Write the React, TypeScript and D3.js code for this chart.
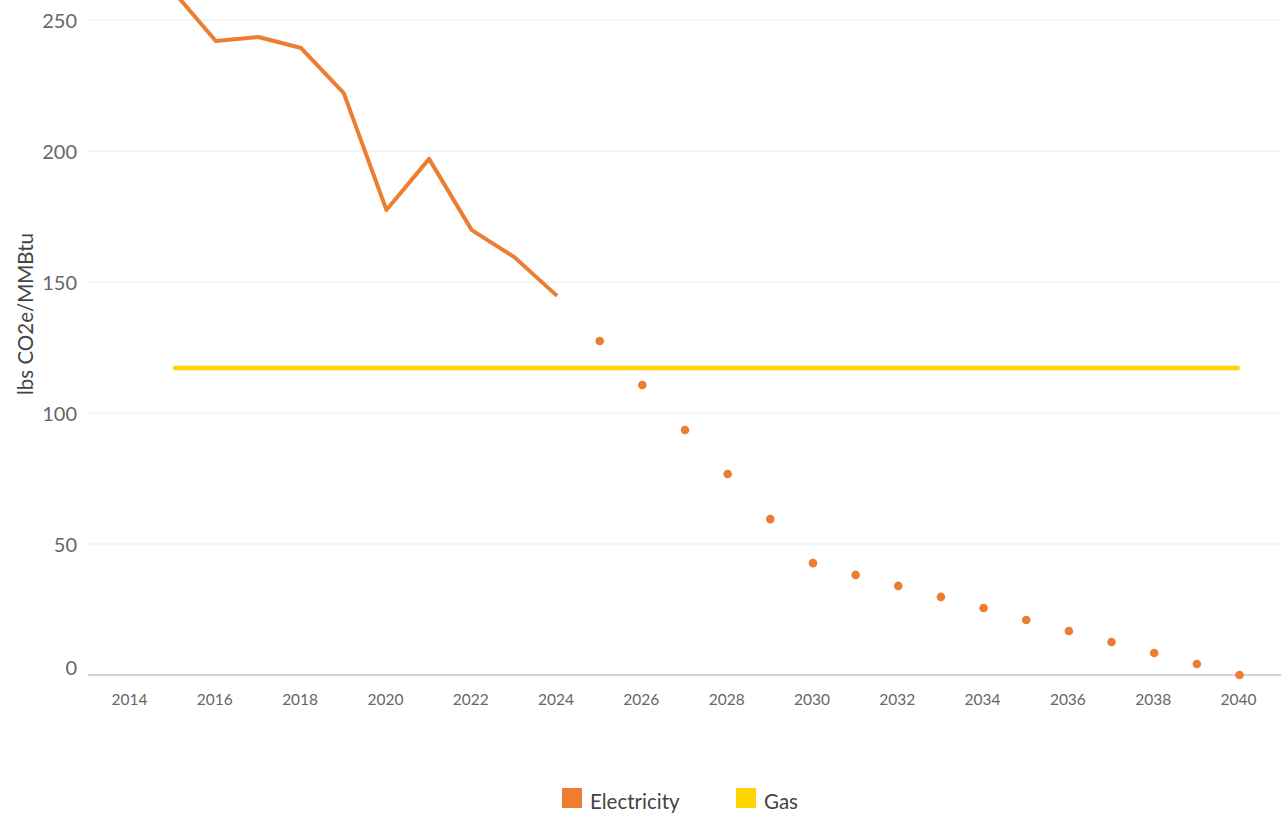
import { useEffect, useRef } from 'react';
import * as d3 from 'd3';

const histYears = [2015, 2016, 2017, 2018, 2019, 2020, 2021, 2022, 2023, 2024];
const histElectricity = [261, 242, 243.5, 239.3, 222.1, 177.5, 197, 169.8, 159.5, 144.7];

const projYears = [2025, 2026, 2027, 2028, 2029, 2030, 2031, 2032, 2033, 2034, 2035, 2036, 2037, 2038, 2039, 2040];
const projElectricity = [127.5, 110.7, 93.5, 76.7, 59.5, 42.7, 38.2, 34, 29.8, 25.6, 21, 16.8, 12.6, 8.4, 4.2, 0];

const gasYears = [2015, 2040];
const gasValues = [117.2, 117.2];

const xTicks = [2014, 2016, 2018, 2020, 2022, 2024, 2026, 2028, 2030, 2032, 2034, 2036, 2038, 2040];
const yTicks = [0, 50, 100, 150, 200, 250];

const ORANGE = '#ED7D31';
const YELLOW = '#FFD400';
const FONT = 'Lato, "Open Sans", sans-serif';

export default function App() {
  const svgRef = useRef<SVGSVGElement>(null);

  useEffect(() => {
    if (!svgRef.current) return;
    const width = 1281;
    const height = 822;

    const svg = d3.select(svgRef.current);
    svg.selectAll('*').remove();
    svg.attr('width', width).attr('height', height);

    const x = d3.scaleLinear().domain([2014, 2040]).range([130.5, 1239.5]);
    const y = d3.scaleLinear().domain([0, 250]).range([675, 20]);
    const left = 88;
    const right = width;

    // gridlines
    svg.append('g')
      .selectAll('line')
      .data(yTicks.filter((t) => t > 0))
      .enter()
      .append('line')
      .attr('x1', left)
      .attr('x2', right)
      .attr('y1', (d) => y(d))
      .attr('y2', (d) => y(d))
      .attr('stroke', '#ececec')
      .attr('stroke-width', 1);

    // y labels
    svg.append('g')
      .selectAll('text')
      .data(yTicks)
      .enter()
      .append('text')
      .attr('x', 77)
      .attr('y', (d) => y(d) + (d === 0 ? -5 : 3))
      .attr('text-anchor', 'end')
      .attr('dominant-baseline', 'middle')
      .attr('font-family', FONT)
      .attr('font-size', 20)
      .attr('fill', '#666')
      .text((d) => d);

    // x axis line
    svg.append('line')
      .attr('x1', left)
      .attr('x2', right)
      .attr('y1', y(0))
      .attr('y2', y(0))
      .attr('stroke', '#c4c4c4')
      .attr('stroke-width', 1.5);

    // x labels
    svg.append('g')
      .selectAll('text')
      .data(xTicks)
      .enter()
      .append('text')
      .attr('x', (d) => x(d) - 1)
      .attr('y', 705)
      .attr('text-anchor', 'middle')
      .attr('font-family', FONT)
      .attr('font-size', 15.5)
      .attr('fill', '#666')
      .text((d) => d);

    // y title
    svg.append('text')
      .attr('transform', `translate(33,314) rotate(-90)`)
      .attr('text-anchor', 'middle')
      .attr('font-family', FONT)
      .attr('font-size', 20.5)
      .attr('fill', '#444')
      .text('lbs CO2e/MMBtu');

    const line = d3
      .line<[number, number]>()
      .x((d) => x(d[0]))
      .y((d) => y(d[1]));

    // gas
    svg.append('path')
      .datum(gasYears.map((yr, i) => [yr, gasValues[i]] as [number, number]))
      .attr('d', line)
      .attr('fill', 'none')
      .attr('stroke', YELLOW)
      .attr('stroke-width', 4.5);

    // electricity history
    svg.append('path')
      .datum(histYears.map((yr, i) => [yr, histElectricity[i]] as [number, number]))
      .attr('d', line)
      .attr('fill', 'none')
      .attr('stroke', ORANGE)
      .attr('stroke-width', 4)
      .attr('stroke-linejoin', 'round');

    // electricity projection
    svg.append('g')
      .selectAll('circle')
      .data(projYears.map((yr, i) => [yr, projElectricity[i]]))
      .enter()
      .append('circle')
      .attr('cx', (d) => x(d[0]))
      .attr('cy', (d) => y(d[1]))
      .attr('r', 4.3)
      .attr('fill', ORANGE);

    // legend
    const legend = [
      { label: 'Electricity', color: ORANGE, x: 562 },
      { label: 'Gas', color: YELLOW, x: 736 },
    ];
    const lg = svg.append('g');
    legend.forEach((l) => {
      lg.append('rect')
        .attr('x', l.x)
        .attr('y', 788)
        .attr('width', 20)
        .attr('height', 20)
        .attr('fill', l.color);
      lg.append('text')
        .attr('x', l.x + 28)
        .attr('y', 809)
        .attr('font-family', FONT)
        .attr('font-size', 20.5)
        .attr('fill', '#444')
        .text(l.label);
    });
  }, []);

  return (
    <svg
      ref={svgRef}
      style={{ position: 'absolute', left: 0, top: 0, background: '#fff', display: 'block' }}
    />
  );
}
